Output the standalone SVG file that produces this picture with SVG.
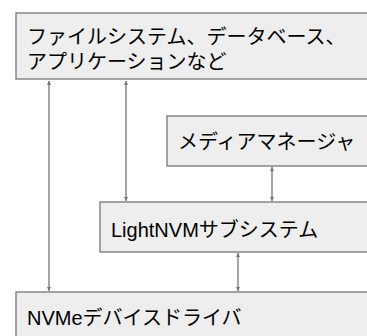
<svg xmlns="http://www.w3.org/2000/svg" width="367" height="336" viewBox="0 0 367 336">
<style>
.box{fill:#eeeeee;stroke:#757575;stroke-width:1.3}
.t{font-family:"Liberation Sans","Noto Sans CJK JP",sans-serif;font-size:20px;fill:#000}
.c{stroke:#757575;stroke-width:1.3;fill:none;marker-start:url(#ah);marker-end:url(#ah)}
</style>
<defs>
<marker id="ah" viewBox="0 0 10 10" refX="10" refY="5" markerWidth="4" markerHeight="4" orient="auto-start-reverse" markerUnits="userSpaceOnUse"><path d="M0,0 L10,5 L0,10 z" fill="#757575"/></marker>
</defs>
<rect width="367" height="336" fill="#ffffff"/>
<g id="connectors">
<line class="c" x1="49" y1="81" x2="49" y2="291"/>
<line class="c" x1="126" y1="81" x2="126" y2="201"/>
<line class="c" x1="272" y1="167" x2="272" y2="201"/>
<line class="c" x1="238" y1="253" x2="238" y2="291"/>
</g>
<g id="apps">
<rect class="box" x="16" y="13" width="360" height="66"/>
<text class="t" x="27" y="44">ファイルシステム、データベース、</text>
<text class="t" x="27" y="69">アプリケーションなど</text>
</g>
<g id="media">
<rect class="box" x="167" y="116" width="210" height="50"/>
<text class="t" x="178" y="149">メディアマネージャ</text>
</g>
<g id="lightnvm">
<rect class="box" x="100" y="202" width="277" height="50"/>
<text class="t" x="111" y="237">LightNVMサブシステム</text>
</g>
<g id="nvme">
<rect class="box" x="16" y="292" width="360" height="60"/>
<text class="t" x="27" y="325">NVMeデバイスドライバ</text>
</g>
</svg>
